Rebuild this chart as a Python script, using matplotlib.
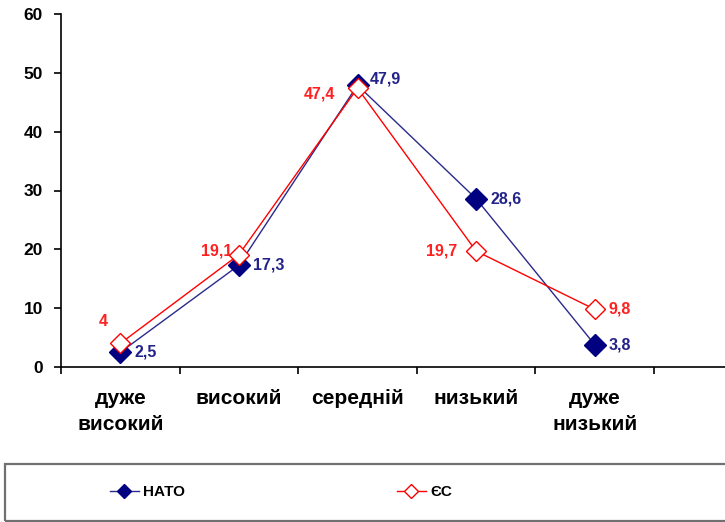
import matplotlib.pyplot as plt
from matplotlib.patches import Rectangle
from matplotlib.lines import Line2D

plt.rcParams['font.family'] = ['Liberation Sans', 'DejaVu Sans']
plt.rcParams['font.weight'] = 'bold'

categories = ['дуже\nвисокий', 'високий', 'середній', 'низький', 'дуже\nнизький']
nato = [2.5, 17.3, 47.9, 28.6, 3.8]
es = [4, 19.1, 47.4, 19.7, 9.8]
natoLabels = ['2,5', '17,3', '47,9', '28,6', '3,8']
esLabels = ['4', '19,1', '47,4', '19,7', '9,8']
# offsets of ЄС labels in pixels (dx, dy, ha)
esOffsets = [(-17, 22, 'center'), (-7, 4, 'right'), (-22, -6, 'right'), (-19, 0, 'right'), (14, 0, 'left')]

fig = plt.figure(figsize=(7.25, 5.22), dpi=100)
ax = fig.add_axes([61/725, 1-367/522, 1-61/725, (367-14)/522])

xs = list(range(len(categories)))
ax.plot(xs, nato, color='#2A2A8C', lw=1, marker='D', ms=11, mfc='#000080', mec='#000080', zorder=3)
ax.plot(xs, es, color='#FF0000', lw=1, marker='D', ms=10, mfc='white', mec='#FF0000', mew=1, zorder=4)

for i in xs:
    ax.annotate(natoLabels[i], (xs[i], nato[i]), xytext=(12 if i == 2 else 14, 6 if i == 2 else 0),
                textcoords='offset pixels', ha='left', va='center', color='#22228A',
                fontsize=11.5, fontweight='bold')
    dx, dy, ha = esOffsets[i]
    ax.annotate(esLabels[i], (xs[i], es[i]), xytext=(dx, dy), textcoords='offset pixels',
                ha=ha, va='center', color='#FF2020', fontsize=11.5, fontweight='bold')

ax.set_ylim(0, 60)
ax.set_yticks(range(0, 61, 10))
ax.set_xticks([i - 0.5 for i in range(7)])
ax.set_xticklabels([])
ax.set_xticks(xs, minor=True)
ax.set_xticklabels(categories, minor=True, fontsize=15, fontweight='bold', linespacing=1.45)
ax.set_xlim(-0.5, (725-61)/118.6 - 0.5)
ax.tick_params(axis='x', which='minor', length=0, pad=16)
ax.tick_params(axis='x', which='major', length=5, width=1.2, direction='out')
ax.tick_params(axis='y', length=5, width=1.2, direction='out', pad=8, labelsize=12.5)
for lab in ax.get_yticklabels():
    lab.set_fontweight('bold')
for lab in ax.get_xticklabels(minor=True):
    lab.set_verticalalignment('top')
ax.spines['top'].set_visible(False)
ax.spines['right'].set_visible(False)
ax.spines['left'].set_linewidth(1.2)
ax.spines['bottom'].set_linewidth(1.2)

# legend frame
fig.patches.append(Rectangle((5/725, 1-521/522), 1.0, (521-464)/522, transform=fig.transFigure,
                             fill=False, edgecolor='#707070', lw=1.6))
h1 = Line2D([], [], color='#2A2A8C', lw=1, marker='D', ms=7, mfc='#000080', mec='#000080')
h2 = Line2D([], [], color='#FF0000', lw=1, marker='D', ms=7, mfc='white', mec='#FF0000')
fig.legend(handles=[h1], labels=['НАТО'], loc='center left', bbox_to_anchor=(96/725, 1-492/522),
           frameon=False, handlelength=1.9, handletextpad=0.3, prop={'weight': 'bold', 'size': 11})
fig.legend(handles=[h2], labels=['ЄС'], loc='center left', bbox_to_anchor=(383/725, 1-492/522),
           frameon=False, handlelength=1.9, handletextpad=0.3, prop={'weight': 'bold', 'size': 11})

fig.savefig('out.png', dpi=100, facecolor='white')
